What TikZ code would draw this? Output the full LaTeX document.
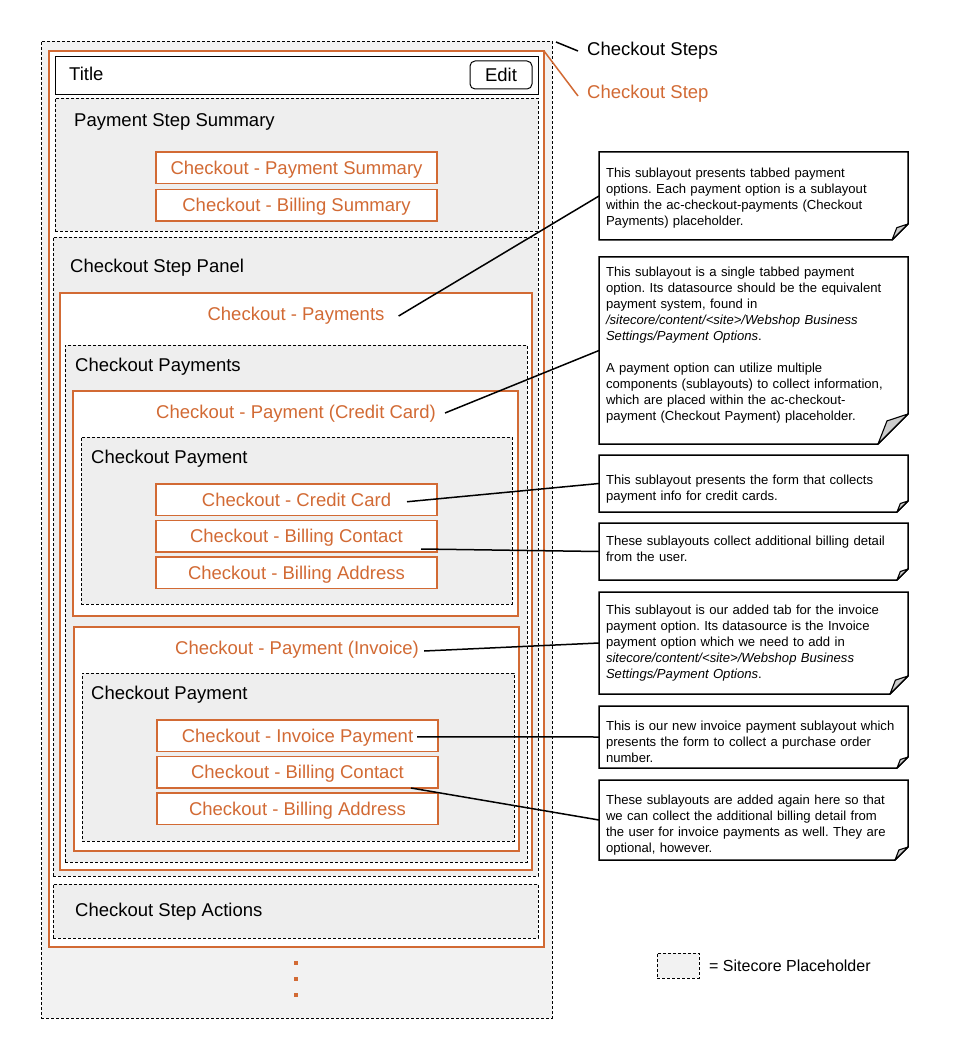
\documentclass[tikz,border=0pt]{standalone}
\usepackage{fontspec}
\setmainfont{Liberation Sans}
\usetikzlibrary{positioning, calc}
\frenchspacing

\definecolor{scorange}{RGB}{210,106,52}
\definecolor{holdergray}{RGB}{238,238,238}
\definecolor{stepsgray}{RGB}{242,242,242}
\definecolor{foldgray}{RGB}{204,204,204}

\newcommand{\lblfont}{\fontsize{18.5}{22}\selectfont}
\newcommand{\notefont}{\fontsize{13.1}{16}\selectfont}

% note outline with a folded corner
\newcommand{\notecurl}[2]{%
  \draw[line width=1.5pt, line join=miter] (#1.south west) -- (#1.north west) -- (#1.north east)
    -- ([yshift=#2pt]#1.south east) -- ([xshift=-#2pt]#1.south east) -- cycle;
  \filldraw[fill=foldgray, line width=1.1pt, line join=round] ([yshift=#2pt]#1.south east)
    -- ([xshift={-0.7*#2pt}, yshift={0.77*#2pt}]#1.south east) -- ([xshift=-#2pt]#1.south east) -- cycle;
}

\begin{document}
\begin{tikzpicture}[x=1pt, y=-1pt,
  holder/.style={draw, dash pattern=on 3pt off 2pt, line width=0.8pt, fill=holdergray, inner sep=0pt, outer sep=0pt, anchor=north west},
  layout/.style={draw=scorange, line width=1.6pt, fill=white, inner sep=0pt, outer sep=0pt, anchor=north west},
  sub/.style={layout, minimum width=281pt, minimum height=31.5pt, text=scorange, font=\lblfont, text height=13pt, text depth=0pt},
  lbl/.style={anchor=west, inner sep=0pt, font=\lblfont, text height=13pt, text depth=0pt},
  olbl/.style={inner sep=0pt, text=scorange, font=\lblfont, text height=13pt, text depth=0pt},
  note/.style={anchor=north west, inner xsep=7pt, inner ysep=0pt, outer sep=0pt, minimum width=309pt, text width=295pt, align=left, font=\notefont},
  nudge/.style={execute at end node={\endgraf\vspace*{#1}}},
  conn/.style={line width=1.5pt},
  node distance=5pt
]
\useasboundingbox[fill=white] (0,0) rectangle (960,1056);

% containers
\node[holder, fill=stepsgray, minimum width=511pt, minimum height=977pt] (steps) at (41,41) {};
\node[layout, minimum width=495pt, minimum height=896pt] (step) at (49,51) {};
\node[draw, line width=1.1pt, fill=white, inner sep=0pt, anchor=north west, minimum width=483pt, minimum height=38pt] (titlebar) at (55,56) {};
\node[lbl] (title) at (69,74) {Title};
\node[draw, line width=1pt, rounded corners=5pt, minimum width=62pt, minimum height=28pt, inner sep=0pt, font=\lblfont, text height=13pt, text depth=0pt] (edit) at (501,75) {Edit};

\node[holder, minimum width=483pt, minimum height=133pt] (summary) at (55,98) {};
\node[lbl] (summarylbl) at (74,120) {Payment Step Summary};
\node[sub] (paysum) at (156,152) {Checkout - Payment Summary};
\node[sub, below=6pt of paysum] (billsum) {Checkout - Billing Summary};

\node[holder, minimum width=485pt, minimum height=639pt] (panel) at (53,237) {};
\node[lbl] (panellbl) at (70,266) {Checkout Step Panel};
\node[layout, minimum width=472pt, minimum height=577pt] (payments) at (60,293) {};
\node[olbl] (paytitle) at (296,314) {Checkout - Payments};
\node[holder, minimum width=462pt, minimum height=517pt] (payholder) at (65,345) {};
\node[lbl] (payholderlbl) at (75,365) {Checkout Payments};

% credit card tab
\node[layout, minimum width=445pt, minimum height=225pt] (ccpay) at (73,391) {};
\node[olbl] (cctitle) at (296,412) {Checkout - Payment (Credit Card)};
\node[holder, minimum width=431pt, minimum height=167pt] (ccholder) at (81,437) {};
\node[lbl] (ccholderlbl) at (91,457) {Checkout Payment};
\node[sub] (cc) at (156,484) {Checkout - Credit Card};
\node[sub, below=of cc] (cccontact) {Checkout - Billing Contact};
\node[sub, below=of cccontact] (ccaddress) {Checkout - Billing Address};

% invoice tab
\node[layout, minimum width=445pt, minimum height=224pt] (invpay) at (74,627) {};
\node[olbl] (invtitle) at (297,648) {Checkout - Payment (Invoice)};
\node[holder, minimum width=432pt, minimum height=168pt] (invholder) at (82,673) {};
\node[lbl] (invholderlbl) at (91,693) {Checkout Payment};
\node[sub] (invoice) at (157,720) {Checkout - Invoice Payment};
\node[sub, below=of invoice] (invcontact) {Checkout - Billing Contact};
\node[sub, below=of invcontact] (invaddress) {Checkout - Billing Address};

\node[holder, minimum width=485pt, minimum height=54pt] (actions) at (53,884) {};
\node[lbl] (actionslbl) at (75,910) {Checkout Step Actions};

\foreach \y in {963,979,995}
  \fill[scorange] (294,\y-2) rectangle ++(4,4);

% top labels
\node[lbl] (stepslbl) at (587,49) {Checkout Steps};
\node[lbl, text=scorange] (steplbl) at (587,92) {Checkout Step};
\draw[conn] ([xshift=4pt, yshift=-1pt]steps.north east) -- ([xshift=-9pt, yshift=-2pt]stepslbl.west);
\draw[conn, scorange] (step.north east) -- ([xshift=-9pt, yshift=-4pt]steplbl.west);

% notes
\node[note, nudge=-4pt, minimum height=88pt] (n1) at (599,152) {This sublayout presents tabbed payment\\options. Each payment option is a sublayout\\within the ac-checkout-payments (Checkout\\Payments) placeholder.};
\node[note, nudge=11pt, minimum height=187pt] (n2) at (599,257) {This sublayout is a single tabbed payment\\option. Its datasource should be the equivalent\\payment system, found in\\\textit{/sitecore/content/<site>/Webshop Business}\\\textit{Settings/Payment Options}.\\[16pt]A payment option can utilize multiple\\components (sublayouts) to collect information,\\which are placed within the ac-checkout-\\payment (Checkout Payment) placeholder.};
\node[note, nudge=-12pt, minimum height=57pt] (n3) at (599,455) {This sublayout presents the form that collects\\payment info for credit cards.};
\node[note, nudge=6pt, minimum height=57pt] (n4) at (599,523) {These sublayouts collect additional billing detail\\from the user.};
\node[note, minimum height=102pt] (n5) at (599,592) {This sublayout is our added tab for the invoice\\payment option. Its datasource is the Invoice\\payment option which we need to add in\\\textit{sitecore/content/<site>/Webshop Business}\\\textit{Settings/Payment Options}.};
\node[note, nudge=-9pt, minimum height=62pt] (n6) at (599,706) {This is our new invoice payment sublayout which\\presents the form to collect a purchase order\\number.};
\node[note, nudge=-10pt, minimum height=80pt] (n7) at (599,780) {These sublayouts are added again here so that\\we can collect the additional billing detail from\\the user for invoice payments as well. They are\\optional, however.};
\notecurl{n1}{16}
\notecurl{n2}{30}
\notecurl{n3}{11}
\notecurl{n4}{11}
\notecurl{n5}{18}
\notecurl{n6}{11}
\notecurl{n7}{13}

% connectors
\draw[conn] ([xshift=14pt, yshift=-2pt]paytitle.east) -- (n1.west);
\draw[conn] ([xshift=9pt, yshift=-1pt]cctitle.east) -- (n2.west);
\draw[conn] ([xshift=-30pt, yshift=-2pt]cc.east) -- (n3.west);
\draw[conn] ([xshift=-16pt, yshift=3pt]cccontact.south east) -- (n4.west);
\draw[conn] ([xshift=5pt, yshift=-3pt]invtitle.east) -- (n5.west);
\draw[conn] ([xshift=-21pt, yshift=-1pt]invoice.east) -- (n6.west);
\draw[conn] ([xshift=-27pt]invcontact.south east) -- (n7.west);

% legend
\node[holder, fill=stepsgray, minimum width=42pt, minimum height=25pt] (legendbox) at (657,953) {};
\node[anchor=west, inner sep=0pt, font=\fontsize{16}{19}\selectfont] (legendlbl) at (709,966) {= Sitecore Placeholder};
\end{tikzpicture}
\end{document}
